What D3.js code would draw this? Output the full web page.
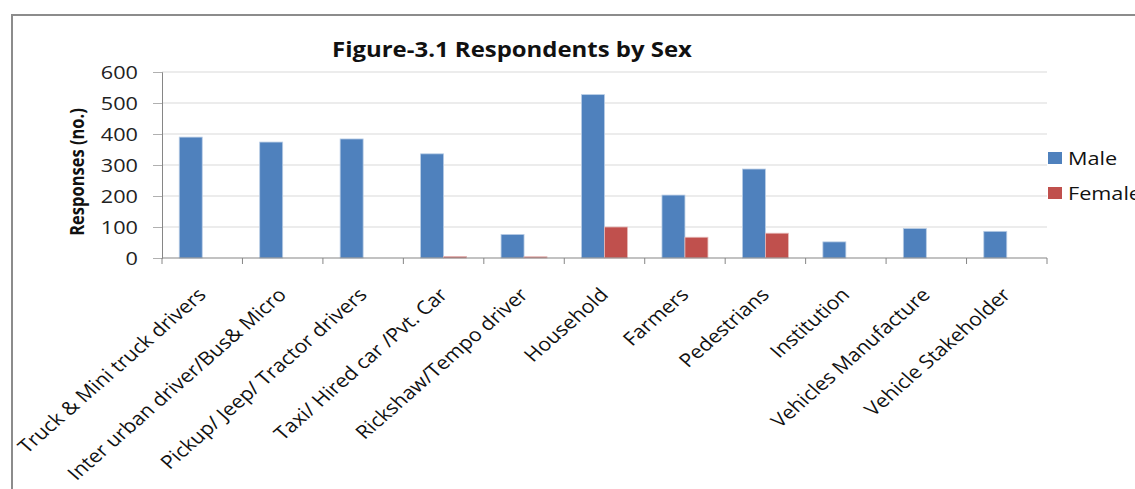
<!DOCTYPE html>
<html>
<head>
<meta charset="utf-8">
<script src="https://cdn.jsdelivr.net/npm/d3@7"></script>
<style>
  html, body { margin: 0; padding: 0; background: #fff; }
  svg { display: block; font-family: "Open Sans", sans-serif; }
</style>
</head>
<body>
<svg id="chart" width="1135" height="489"></svg>
<script>
// Respondent groups and counts by sex
const categories = [
  "Truck & Mini truck drivers",
  "Inter urban driver/Bus& Micro",
  "Pickup/ Jeep/ Tractor drivers",
  "Taxi/ Hired car /Pvt. Car",
  "Rickshaw/Tempo driver",
  "Household",
  "Farmers",
  "Pedestrians",
  "Institution",
  "Vehicles Manufacture",
  "Vehicle Stakeholder"
];
const maleValues   = [390, 374, 384, 336, 76, 527, 203, 287, 52, 95, 86];
const femaleValues = [0, 0, 0, 5, 4, 100, 67, 80, 0, 0, 0];
const seriesNames  = ["Male", "Female"];
const yTicks       = [0, 100, 200, 300, 400, 500, 600];

const colors = { Male: "#4F81BD", Female: "#C0504D" };
// text in this figure is set slightly wide
const sx = 1.14;

const svg = d3.select("#chart");

// outer chart frame
svg.append("rect")
  .attr("x", 12).attr("y", 15)
  .attr("width", 1140).attr("height", 490)
  .attr("fill", "none")
  .attr("stroke", "#8c8c8c")
  .attr("stroke-width", 2);

const plot = { left: 162, right: 1047, top: 72, bottom: 258 };

const x0 = d3.scaleBand()
  .domain(categories)
  .range([plot.left, plot.right])
  .paddingInner(0)
  .paddingOuter(0);

const x1 = d3.scaleBand()
  .domain(seriesNames)
  .range([0, x0.bandwidth()])
  .paddingInner(0)
  .paddingOuter(0.75);

const y = d3.scaleLinear()
  .domain([0, 600])
  .range([plot.bottom, plot.top]);

// horizontal gridlines
svg.append("g")
  .selectAll("line")
  .data(yTicks.filter(d => d > 0))
  .join("line")
  .attr("x1", plot.left).attr("x2", plot.right)
  .attr("y1", d => y(d)).attr("y2", d => y(d))
  .attr("stroke", "#d9d9d9")
  .attr("stroke-width", 1.2);

// y axis
const yAxis = svg.append("g")
  .attr("transform", `translate(${plot.left},0)`)
  .call(d3.axisLeft(y).tickValues(yTicks).tickSize(9).tickPadding(0).tickFormat(d3.format("d")));
yAxis.select(".domain").attr("stroke", "#868686");
yAxis.selectAll(".tick line").attr("stroke", "#b0b0b0");
yAxis.selectAll(".tick text")
  .attr("x", null)
  .attr("transform", "translate(-24,0) scale(" + sx + ",1)")
  .attr("font-size", 19)
  .attr("fill", "#222")
  .attr("font-family", "'Open Sans', sans-serif");

// bars
const groups = svg.append("g")
  .selectAll("g")
  .data(categories.map((c, i) => ({ c, vals: [
    { key: "Male", v: maleValues[i] },
    { key: "Female", v: femaleValues[i] }
  ] })))
  .join("g")
  .attr("transform", d => `translate(${x0(d.c)},0)`);

groups.selectAll("rect")
  .data(d => d.vals.filter(e => e.v > 0))
  .join("rect")
  .attr("x", d => x1(d.key))
  .attr("width", x1.bandwidth())
  .attr("y", d => y(d.v))
  .attr("height", d => y(0) - y(d.v))
  .attr("fill", d => colors[d.key])
  .attr("stroke", d => d.key === "Male" ? "#b9cde5" : "#e6b9b8")
  .attr("stroke-width", 0.8);

// x axis with tick marks at category boundaries
const xg = svg.append("g");
xg.append("line")
  .attr("x1", plot.left).attr("x2", plot.right)
  .attr("y1", plot.bottom).attr("y2", plot.bottom)
  .attr("stroke", "#868686").attr("stroke-width", 1.2);
const bounds = categories.map(c => x0(c)).concat([plot.right]);
xg.selectAll("line.tk")
  .data(bounds)
  .join("line")
  .attr("class", "tk")
  .attr("x1", d => d).attr("x2", d => d)
  .attr("y1", plot.bottom).attr("y2", plot.bottom + 6)
  .attr("stroke", "#868686");

// rotated category labels
xg.selectAll("text")
  .data(categories)
  .join("text")
  .attr("transform", d => `translate(${x0(d) + x0.bandwidth() / 2 + 5},${plot.bottom + 38}) scale(${sx},1) rotate(-45)`)
  .attr("text-anchor", "end")
  .attr("font-size", 18.7)
  .attr("fill", "#111")
  .text(d => d);

// title
svg.append("text")
  .attr("transform", `translate(512,57) scale(${sx},1)`)
  .attr("text-anchor", "middle")
  .attr("font-size", 21)
  .attr("font-weight", "bold")
  .attr("fill", "#111")
  .text("Figure-3.1 Respondents by Sex");

// y axis title
svg.append("text")
  .attr("transform", `translate(84,172) scale(${sx},1) rotate(-90)`)
  .attr("text-anchor", "middle")
  .attr("font-size", 16.5)
  .attr("font-weight", "bold")
  .attr("fill", "#111")
  .text("Responses (no.)");

// legend
const legend = svg.append("g")
  .selectAll("g")
  .data(seriesNames)
  .join("g")
  .attr("transform", (d, i) => `translate(1048,${152 + i * 35})`);
legend.append("rect")
  .attr("width", 14).attr("height", 12)
  .attr("fill", d => colors[d]);
legend.append("text")
  .attr("transform", `translate(20,12.5) scale(${sx},1)`)
  .attr("font-size", 19)
  .attr("fill", "#111")
  .text(d => d);
</script>
</body>
</html>
